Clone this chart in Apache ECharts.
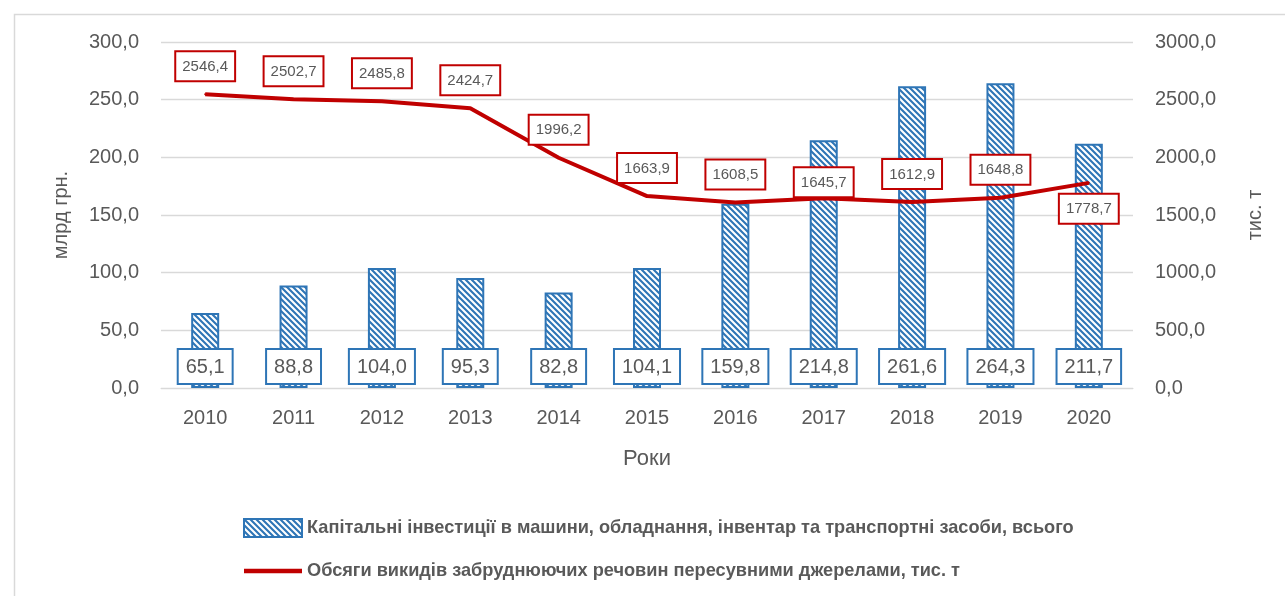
<!DOCTYPE html>
<html><head><meta charset="utf-8">
<script src="https://cdn.jsdelivr.net/npm/echarts@6/dist/echarts.min.js"></script>
<style>html,body{margin:0;padding:0;background:#fff}#c{width:1285px;height:596px}</style>
</head><body><div id="c"></div>
<script>
const years = ['2010','2011','2012','2013','2014','2015','2016','2017','2018','2019','2020'];
const investments = [65.1, 88.8, 104.0, 95.3, 82.8, 104.1, 159.8, 214.8, 261.6, 264.3, 211.7];
const emissions = [2546.4, 2502.7, 2485.8, 2424.7, 1996.2, 1663.9, 1608.5, 1645.7, 1612.9, 1648.8, 1778.7];
const barName = 'Капітальні інвестиції в машини, обладнання, інвентар та транспортні засоби, всього';
const lineName = 'Обсяги викидів забруднюючих речовин пересувними джерелами, тис. т';

const FONT = 'Liberation Sans';
const GRAY = '#595959';
const BLUE = '#2E75B6';
const RED = '#C00000';

function hatch() {
  const s = 6;
  const c = document.createElement('canvas');
  c.width = s; c.height = s;
  const g = c.getContext('2d');
  g.fillStyle = '#ffffff'; g.fillRect(0,0,s,s);
  g.strokeStyle = BLUE; g.lineWidth = 2.1;
  g.beginPath();
  g.moveTo(-2, -2); g.lineTo(s+2, s+2);
  g.moveTo(-2, s-2); g.lineTo(2, s+2);
  g.moveTo(s-2, -2); g.lineTo(s+2, 2);
  g.stroke();
  return c;
}
const pattern = { image: hatch(), repeat: 'repeat' };
const fmt = v => v.toFixed(1).replace('.', ',');

const chart = echarts.init(document.getElementById('c'));
chart.setOption({
  backgroundColor: '#fff',
  animation: false,
  graphic: [{ type: 'rect', left: 12, top: 12, shape: { width: 1285, height: 600 },
    style: { fill: 'none', stroke: '#d9d9d9', lineWidth: 1.5 }, silent: true }],
  grid: { left: 161, right: 152, top: 42, bottom: 208 },
  xAxis: {
    type: 'category', data: years,
    name: 'Роки', nameLocation: 'middle', nameGap: 60,
    nameTextStyle: { fontFamily: FONT, fontSize: 22, color: GRAY },
    axisLine: { show: true, lineStyle: { color: '#d9d9d9', width: 1 } },
    axisTick: { show: false },
    axisLabel: { fontFamily: FONT, fontSize: 20, color: GRAY, margin: 20 }
  },
  yAxis: [{
    type: 'value', min: 0, max: 300, interval: 50,
    name: 'млрд грн.', nameLocation: 'middle', nameGap: 90, nameRotate: 90,
    nameTextStyle: { fontFamily: FONT, fontSize: 20, color: GRAY },
    axisLabel: { fontFamily: FONT, fontSize: 20, color: GRAY, margin: 22, formatter: v => fmt(v) },
    splitLine: { lineStyle: { color: '#d9d9d9', width: 1.3 } },
    axisLine: { show: false }, axisTick: { show: false }
  }, {
    type: 'value', min: 0, max: 3000, interval: 500,
    name: 'тис. т', nameLocation: 'middle', nameGap: 112, nameRotate: 90,
    nameTextStyle: { fontFamily: FONT, fontSize: 20, color: GRAY },
    axisLabel: { fontFamily: FONT, fontSize: 20, color: GRAY, margin: 22, formatter: v => fmt(v) },
    splitLine: { show: false },
    axisLine: { show: false }, axisTick: { show: false }
  }],
  legend: {
    orient: 'vertical', left: 238, top: 513, itemGap: 24,
    itemWidth: 58, itemHeight: 18,
    textStyle: { fontFamily: FONT, fontSize: 18.2, fontWeight: 'bold', color: GRAY },
    data: [
      { name: barName, icon: 'rect' },
      { name: lineName, icon: 'path://M0,0H60V4.5H0Z', itemStyle: { color: RED, opacity: 1 } }
    ]
  },
  series: [{
    name: barName, type: 'bar', data: investments, barWidth: 28,
    itemStyle: { color: pattern, borderColor: BLUE, borderWidth: 2 },
    label: {
      show: true, position: 'insideBottom', distance: 5,
      formatter: p => fmt(p.value),
      fontFamily: FONT, fontSize: 20, color: GRAY,
      backgroundColor: '#fff', borderColor: BLUE, borderWidth: 2,
      padding: [7, 7, 6, 7]
    },
    z: 2
  }, {
    name: lineName, type: 'line', yAxisIndex: 1, data: emissions.map((v, i) => ({
      value: v,
      label: i === 10 ? { position: 'bottom', distance: 11 } : { position: 'top', distance: i === 7 ? 1 : 13 }
    })),
    symbol: 'circle', symbolSize: 2, showSymbol: true,
    lineStyle: { color: RED, width: 4 },
    itemStyle: { color: RED },
    label: {
      show: true, formatter: p => fmt(p.value),
      fontFamily: FONT, fontSize: 15, color: GRAY,
      backgroundColor: '#fff', borderColor: RED, borderWidth: 2,
      padding: [7, 6, 6, 6]
    },
    z: 3
  }]
});
</script></body></html>
